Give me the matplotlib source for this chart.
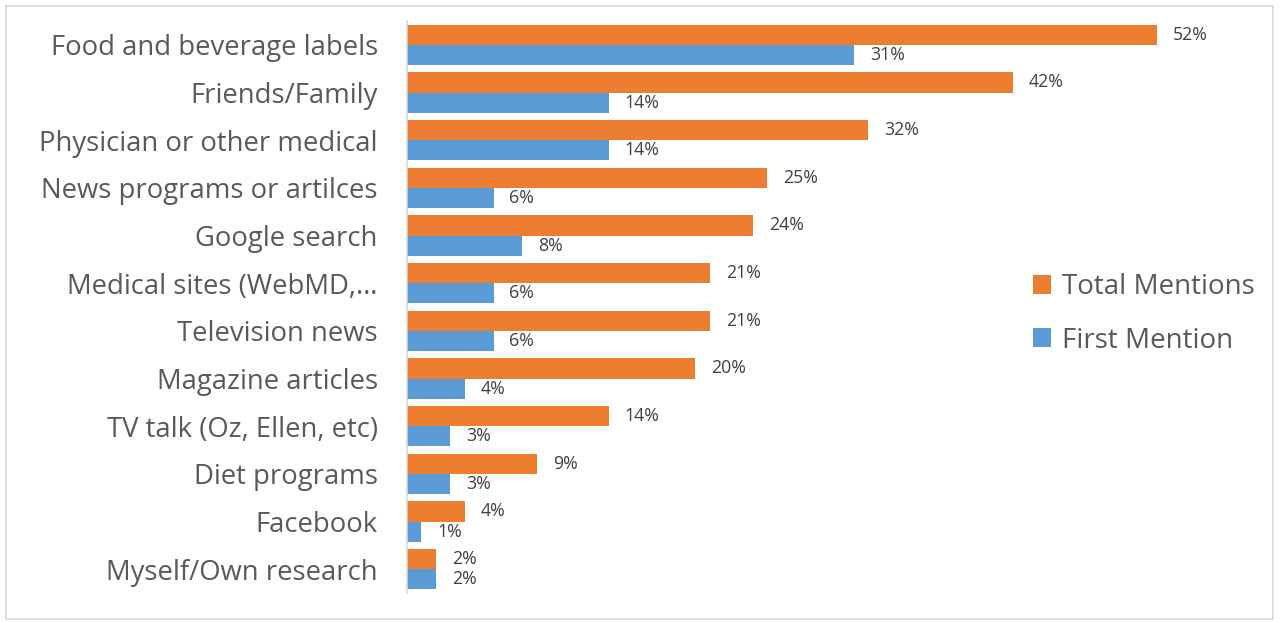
import numpy as np
import matplotlib.pyplot as plt
from matplotlib.patches import Rectangle

plt.rcParams['font.family'] = ['Open Sans', 'DejaVu Sans']

sources = ["Food and beverage labels", "Friends/Family", "Physician or other medical",
           "News programs or artilces", "Google search", "Medical sites (WebMD,\u2026",
           "Television news", "Magazine articles", "TV talk (Oz, Ellen, etc)",
           "Diet programs", "Facebook", "Myself/Own research"]
total_mentions = [52, 42, 32, 25, 24, 21, 21, 20, 14, 9, 4, 2]
first_mention = [31, 14, 14, 6, 8, 6, 6, 4, 3, 3, 1, 2]

orange = "#ED7D31"
blue = "#5B9BD5"

W, H = 1281, 622
fig = plt.figure(figsize=(W / 100, H / 100), dpi=100)
fig.patches.append(Rectangle((6 / W, 3 / H), 1267 / W, 613 / H, transform=fig.transFigure,
                             fill=False, edgecolor="#d9d9d9", linewidth=1.2))

ax = fig.add_axes([407 / W, 1 - 593 / H, 865 / W, 572 / H])
y = np.arange(len(sources))
h = 0.42
ax.barh(y - h / 2, total_mentions, height=h, color=orange, label="Total Mentions")
ax.barh(y + h / 2, first_mention, height=h, color=blue, label="First Mention")

for yi, v in zip(y, total_mentions):
    ax.annotate(f"{v}%", (v, yi - h / 2), xytext=(11.5, 0), textcoords="offset points",
                va="center", ha="left", fontsize=12.8, color="#404040")
for yi, v in zip(y, first_mention):
    ax.annotate(f"{v}%", (v, yi + h / 2), xytext=(11.5, 0), textcoords="offset points",
                va="center", ha="left", fontsize=12.8, color="#404040")

ax.set_xlim(0, 60)
ax.set_ylim(len(sources) - 0.5, -0.5)
ax.set_yticks(y)
ax.set_yticklabels(sources, fontsize=19.8, color="#595959")
ax.tick_params(axis="y", length=0, pad=21)
ax.set_xticks([])
for s in ["top", "right", "bottom"]:
    ax.spines[s].set_visible(False)
ax.spines["left"].set_color("#d9d9d9")
ax.spines["left"].set_linewidth(1.2)

leg = fig.legend(loc="center left", bbox_to_anchor=(1008 / W, 1 - 314 / H), frameon=False,
                 fontsize=20, labelcolor="#595959", handlelength=0.65, handleheight=0.65,
                 handletextpad=0.4, labelspacing=0.9)

fig.savefig("out.png", dpi=100)
